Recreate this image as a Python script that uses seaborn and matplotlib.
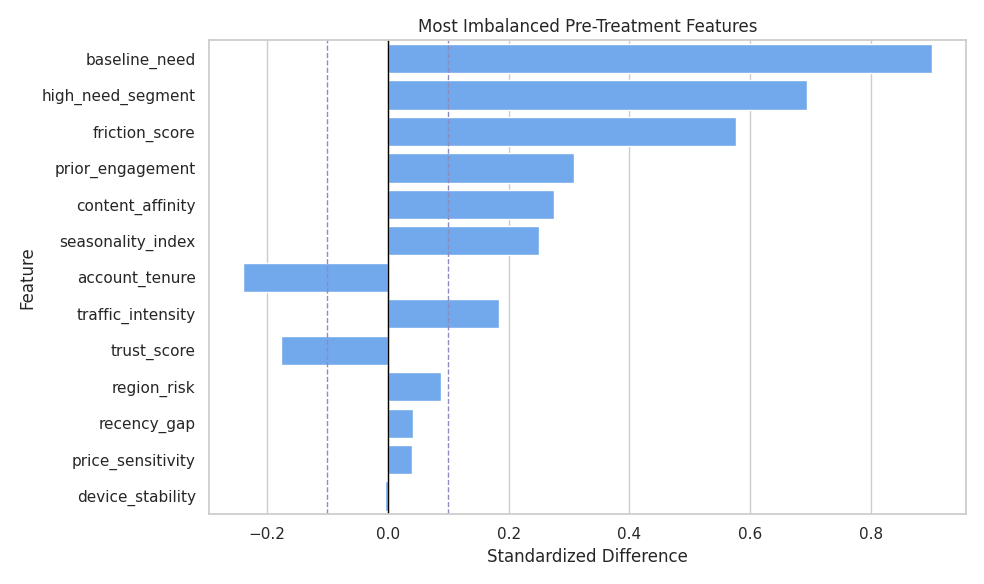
import seaborn as sns
import pandas as pd
import matplotlib
matplotlib.use("Agg")
import matplotlib.pyplot as plt

features = ["baseline_need", "high_need_segment", "friction_score", "prior_engagement",
            "content_affinity", "seasonality_index", "account_tenure", "traffic_intensity",
            "trust_score", "region_risk", "recency_gap", "price_sensitivity", "device_stability"]
std_diff = [0.900, 0.694, 0.577, 0.309, 0.275, 0.250, -0.239, 0.184,
            -0.176, 0.089, 0.042, 0.041, -0.005]

df = pd.DataFrame({"Feature": features, "Standardized Difference": std_diff})

sns.set_theme(style="whitegrid")
fig, ax = plt.subplots(figsize=(9.84, 5.84), dpi=100)
sns.barplot(data=df, x="Standardized Difference", y="Feature", color="#72A8EC",
            saturation=1, ax=ax)
ax.axvline(0, color="black", linewidth=1)
for v in (-0.1, 0.1):
    ax.axvline(v, color="#8c8cbf", linestyle="--", linewidth=1)
ax.grid(axis="y", visible=False)
ax.set_title("Most Imbalanced Pre-Treatment Features")
plt.tight_layout()
plt.savefig("out.png")
